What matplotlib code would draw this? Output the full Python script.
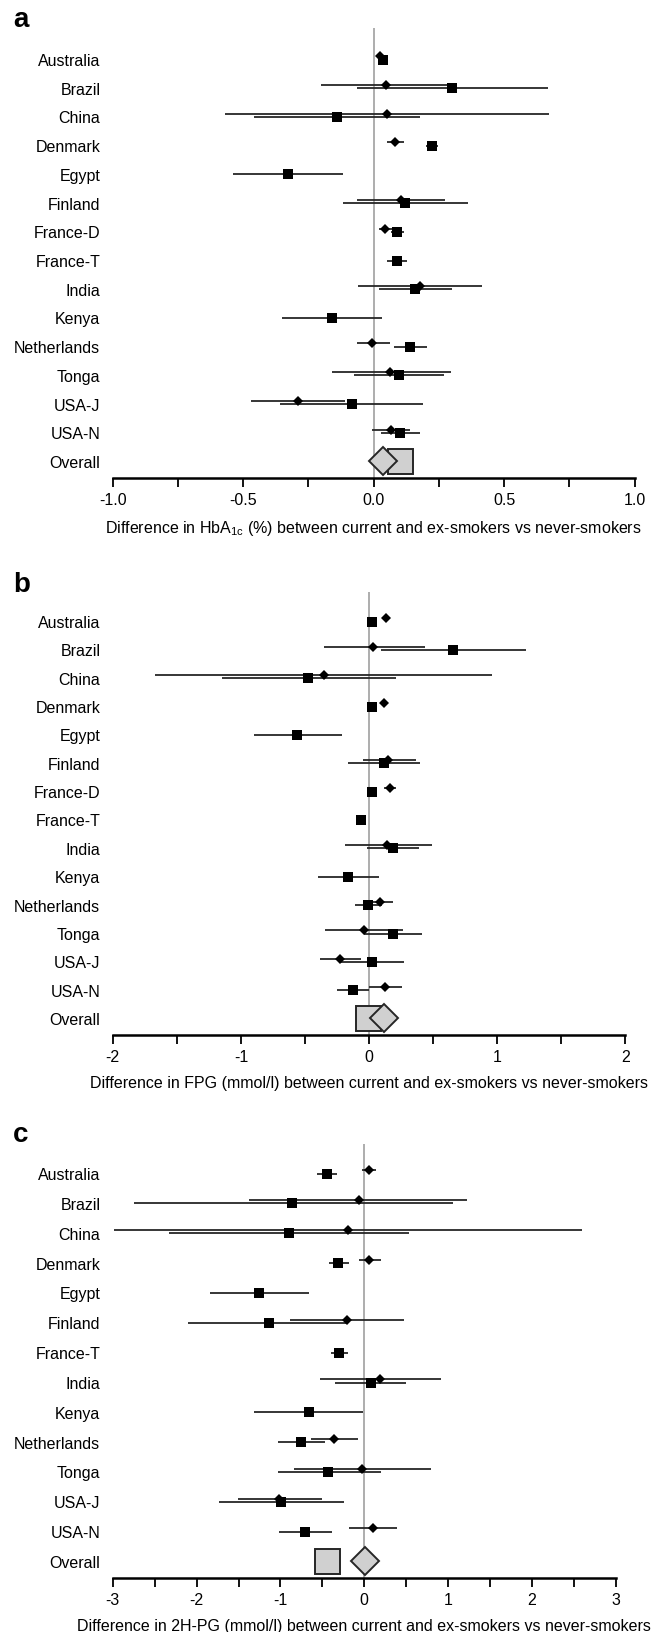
import matplotlib
matplotlib.use('Agg')
import matplotlib.pyplot as plt
import numpy as np

plt.rcParams['font.family'] = ['Liberation Sans', 'DejaVu Sans']
plt.rcParams['mathtext.default'] = 'regular'

nan = np.nan

# ---------------- Panel a : HbA1c ----------------
a_rows = ['Australia', 'Brazil', 'China', 'Denmark', 'Egypt', 'Finland', 'France-D',
          'France-T', 'India', 'Kenya', 'Netherlands', 'Tonga', 'USA-J', 'USA-N']
a_dia = [0.026, 0.048, 0.052, 0.082, nan, 0.104, 0.042, nan, 0.177, nan, -0.005, 0.064, -0.29, 0.066]
a_dia_lo = [0.015, -0.20, -0.568, 0.05, nan, -0.065, 0.02, nan, -0.061, nan, -0.065, -0.161, -0.47, -0.006]
a_dia_hi = [0.037, 0.30, 0.672, 0.118, nan, 0.273, 0.07, nan, 0.416, nan, 0.061, 0.295, -0.11, 0.139]
a_sq = [0.034, 0.30, -0.14, 0.223, -0.33, 0.121, 0.089, 0.09, 0.16, -0.16, 0.139, 0.098, -0.084, 0.10]
a_sq_lo = [0.025, -0.063, -0.458, 0.20, -0.539, -0.116, 0.066, 0.053, 0.02, -0.35, 0.077, -0.076, -0.36, 0.029]
a_sq_hi = [0.045, 0.667, 0.179, 0.247, -0.116, 0.36, 0.115, 0.129, 0.30, 0.032, 0.203, 0.271, 0.19, 0.178]
a_overall_dia = 0.035
a_overall_sq = 0.10
a_ticks = [-1.0, -0.5, 0.0, 0.5, 1.0]
a_ticklabels = ['-1.0', '-0.5', '0.0', '0.5', '1.0']
a_xlabel = r'Difference in HbA$_{1c}$ (%) between current and ex-smokers vs never-smokers'

# ---------------- Panel b : FPG ----------------
b_rows = ['Australia', 'Brazil', 'China', 'Denmark', 'Egypt', 'Finland', 'France-D',
          'France-T', 'India', 'Kenya', 'Netherlands', 'Tonga', 'USA-J', 'USA-N']
b_dia = [0.135, 0.033, -0.355, 0.115, nan, 0.148, 0.164, nan, 0.141, nan, 0.085, -0.039, -0.227, 0.128]
b_dia_lo = [0.12, -0.352, -1.673, 0.09, nan, -0.049, 0.12, nan, -0.187, nan, -0.01, -0.342, -0.385, 0.003]
b_dia_hi = [0.15, 0.437, 0.963, 0.14, nan, 0.365, 0.21, nan, 0.493, nan, 0.19, 0.266, -0.062, 0.256]
b_sq = [0.026, 0.657, -0.473, 0.026, -0.559, 0.115, 0.026, -0.066, 0.19, -0.168, -0.007, 0.19, 0.02, -0.128]
b_sq_lo = [0.01, 0.092, -1.15, 0.005, -0.90, -0.161, 0.0, -0.09, -0.013, -0.401, -0.112, -0.04, -0.23, -0.253]
b_sq_hi = [0.045, 1.226, 0.207, 0.047, -0.214, 0.398, 0.05, -0.045, 0.388, 0.076, 0.102, 0.414, 0.27, 0.003]
b_overall_dia = 0.115
b_overall_sq = -0.005
b_ticks = [-2, -1, 0, 1, 2]
b_ticklabels = ['-2', '-1', '0', '1', '2']
b_xlabel = 'Difference in FPG (mmol/l) between current and ex-smokers vs never-smokers'

# ---------------- Panel c : 2H-PG ----------------
c_rows = ['Australia', 'Brazil', 'China', 'Denmark', 'Egypt', 'Finland', 'France-T',
          'India', 'Kenya', 'Netherlands', 'Tonga', 'USA-J', 'USA-N']
c_dia = [0.055, -0.06, -0.19, 0.055, nan, -0.21, nan, 0.19, nan, -0.362, -0.025, -1.015, 0.10]
c_dia_lo = [-0.03, -1.38, -2.98, -0.06, nan, -0.89, nan, -0.528, nan, -0.64, -0.84, -1.51, -0.186]
c_dia_hi = [0.146, 1.23, 2.60, 0.206, nan, 0.48, nan, 0.92, nan, -0.075, 0.794, -0.50, 0.392]
c_sq = [-0.442, -0.86, -0.90, -0.31, -1.25, -1.14, -0.296, 0.085, -0.663, -0.749, -0.427, -0.99, -0.709]
c_sq_lo = [-0.56, -2.75, -2.33, -0.42, -1.84, -2.10, -0.40, -0.35, -1.31, -1.03, -1.03, -1.73, -1.015]
c_sq_hi = [-0.33, 1.06, 0.53, -0.18, -0.66, -0.21, -0.196, 0.50, -0.015, -0.467, 0.20, -0.236, -0.387]
c_overall_dia = 0.015
c_overall_sq = -0.447
c_ticks = [-3, -2, -1, 0, 1, 2, 3]
c_ticklabels = ['-3', '-2', '-1', '0', '1', '2', '3']
c_xlabel = 'Difference in 2H-PG (mmol/l) between current and ex-smokers vs never-smokers'

# ---------------- Figure ----------------
W, H = 662, 1633
fig = plt.figure(figsize=(W / 100, H / 100), dpi=100)

LINE_C = '#262626'
FILL_C = '#d0d0d0'
EDGE_C = '#262626'
ZERO_C = '#979797'


def panel(letter, letter_y, box, first_row_px, overall_px, rows, dia, dlo, dhi,
          sq, slo, shi, odia, osq, ticks, ticklabels, xlabel):
    left, right, top, bottom = box
    ax = fig.add_axes([left / W, (H - bottom) / H, (right - left) / W, (bottom - top) / H])
    n = len(rows)
    ppr = (overall_px - first_row_px) / n          # pixels per row
    ax.set_ylim(n + (bottom - overall_px) / ppr, -(first_row_px - top) / ppr)
    lim = ticks[-1]
    ax.set_xlim(-lim, lim)

    d_off = -2.7 / ppr
    s_off = 0.6 / ppr
    y = np.arange(n)
    dia = np.array(dia); dlo = np.array(dlo); dhi = np.array(dhi)
    sq = np.array(sq); slo = np.array(slo); shi = np.array(shi)

    ax.axvline(0, color=ZERO_C, lw=1.1, zorder=1)

    md = ~np.isnan(dia)
    ms = ~np.isnan(sq)
    ax.hlines(y[md] + d_off, dlo[md], dhi[md], color=LINE_C, lw=1.3, zorder=2)
    ax.hlines(y[ms] + s_off, slo[ms], shi[ms], color=LINE_C, lw=1.3, zorder=2)
    ax.plot(sq[ms], y[ms] + s_off, 's', color='black', ms=6.9, mew=0, zorder=3)
    ax.plot(dia[md], y[md] + d_off, 'D', color='black', ms=5.6, mew=0, zorder=4)

    # overall
    ax.plot([osq], [n], 's', ms=18, mfc=FILL_C, mec=EDGE_C, mew=1.4, zorder=5)
    ax.plot([odia], [n], 'D', ms=14.2, mfc=FILL_C, mec=EDGE_C, mew=1.4, zorder=6)

    ax.set_yticks(list(range(n + 1)))
    ax.set_yticklabels(list(rows) + ['Overall'], fontsize=11.5)
    ax.tick_params(axis='y', length=0, pad=9)

    ax.set_xticks(ticks)
    ax.set_xticklabels(ticklabels, fontsize=11.5)
    step = ticks[1] - ticks[0]
    minor = np.arange(-lim + step / 2, lim, step)
    ax.set_xticks(minor, minor=True)
    ax.tick_params(axis='x', which='both', direction='out', length=6.5, width=1.3,
                   pad=3.5, color='black')
    ax.set_xlabel(xlabel, fontsize=11.5, labelpad=8)

    for s in ('top', 'right', 'left'):
        ax.spines[s].set_visible(False)
    ax.spines['bottom'].set_linewidth(1.8)
    ax.patch.set_alpha(0)

    fig.text(13 / W, 1 - letter_y / H, letter, fontsize=20, fontweight='bold',
             ha='left', va='center')
    return ax


panel('a', 20, (112.8, 634.5, 29, 479), 60, 462, a_rows, a_dia, a_dia_lo, a_dia_hi,
      a_sq, a_sq_lo, a_sq_hi, a_overall_dia, a_overall_sq, a_ticks, a_ticklabels, a_xlabel)
panel('b', 585, (112.8, 625.3, 593, 1036), 622, 1019, b_rows, b_dia, b_dia_lo, b_dia_hi,
      b_sq, b_sq_lo, b_sq_hi, b_overall_dia, b_overall_sq, b_ticks, b_ticklabels, b_xlabel)
panel('c', 1135, (112.8, 615.6, 1145, 1579), 1174, 1562, c_rows, c_dia, c_dia_lo, c_dia_hi,
      c_sq, c_sq_lo, c_sq_hi, c_overall_dia, c_overall_sq, c_ticks, c_ticklabels, c_xlabel)

fig.savefig('out.png', dpi=100)
